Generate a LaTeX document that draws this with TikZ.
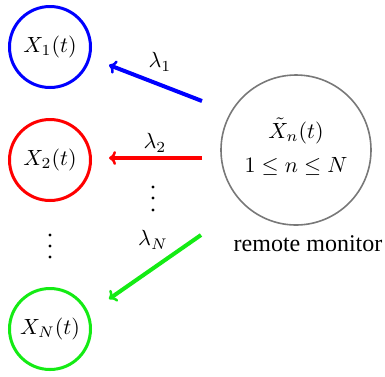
\RequirePackage{fix-cm}
\documentclass[tikz,border=0pt]{standalone}
\usepackage{graphicx}
\usepackage{fontspec}
\newfontfamily\timesfont{Liberation Serif}
\usetikzlibrary{arrows.meta}
\definecolor{mgray}{RGB}{120,120,120}
\definecolor{mgreen}{RGB}{20,235,20}
\newcommand\sbx[1]{\scalebox{2.2}{#1}}
\begin{document}
\begin{tikzpicture}[x=1pt,y=-1pt,
  every node/.style={inner sep=0pt},
  proc/.style={circle, draw, line width=3pt, minimum size=81pt},
  mon/.style={circle, draw=mgray, line width=1.6pt, minimum size=150pt},
  arr/.style={line width=4pt, -{To[length=7pt,width=14pt,line width=2.5pt]}},
  dotmark/.style={fill=black, circle, minimum size=3.2pt, inner sep=0pt}
]
\useasboundingbox (0,0) rectangle (385,376);
\node[proc, draw=blue] (x1) at (50,47) {\sbx{$X_1(t)$}};
\node[proc, draw=red] (x2) at (50,160) {\sbx{$X_2(t)$}};
\node[proc, draw=mgreen] (xN) at (50,329) {\sbx{$X_N(t)$}};
\node[mon] (m) at (296,150) {};
\node (mt) at (296,131) {\sbx{$\tilde{X}_n(t)$}};
\node (mr) at (296,166) {\sbx{$1\leq n\leq N$}};
\node[font=\timesfont\fontsize{24}{28}\selectfont] (ml) at (308,244) {remote monitor};
\foreach \i/\y in {1/235,2/246,3/257} \node[dotmark] (dl\i) at (50,\y) {};
\foreach \i/\y in {1/187,2/198,3/210} \node[dotmark] (dm\i) at (153,\y) {};
\node (l1) at (160,62) {\sbx{$\lambda_1$}};
\node (l2) at (155,143) {\sbx{$\lambda_2$}};
\node (lN) at (153,240) {\sbx{$\lambda_N$}};
\coordinate (b1) at (202,101);
\coordinate (e1) at (109,65);
\coordinate (b2) at (202,158);
\coordinate (e2) at (109,158);
\coordinate (bN) at (201,235);
\coordinate (eN) at (109,299);
\draw[arr, blue] (b1) -- (e1);
\draw[arr, red] (b2) -- (e2);
\draw[arr, mgreen] (bN) -- (eN);
\end{tikzpicture}
\end{document}
